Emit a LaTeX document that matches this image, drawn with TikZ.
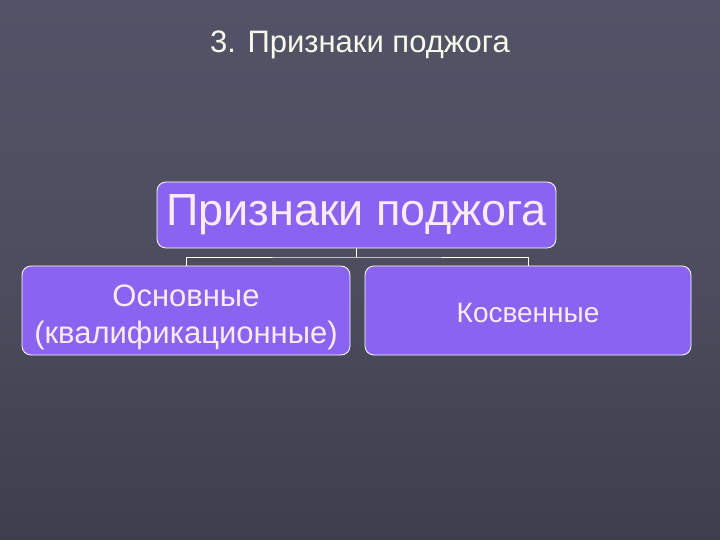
\documentclass[tikz,border=0pt]{standalone}
\usepackage{fontspec}
\setmainfont{Liberation Sans}
\definecolor{slidetop}{RGB}{82,83,102}
\definecolor{slidebot}{RGB}{62,63,76}
\definecolor{boxfill}{RGB}{138,100,240}
\definecolor{boxtext}{RGB}{250,236,246}
\definecolor{titletext}{RGB}{250,250,236}
\begin{document}
\begin{tikzpicture}[x=1pt,y=-1pt,
	every node/.style={inner sep=0},
	box/.style={draw=white,line width=0.8pt,fill=boxfill,rounded corners=9pt,
		text=boxtext,align=center},
	link/.style={draw=white,line width=0.8pt}]
\useasboundingbox (0,0) rectangle (720,540);
\shade[top color=slidetop,bottom color=slidebot,middle color=slidetop!70!slidebot] (0,0) rectangle (720,540);
\node[text=titletext,font=\fontsize{31}{34}\selectfont] (title) at (360,45) {3. Признаки поджога};
\node[box,minimum width=399pt,minimum height=66pt,font=\fontsize{45}{48}\selectfont] (root) at (356.5,215) {Признаки поджога};
\node[box,minimum width=328pt,minimum height=89pt,font=\fontsize{31}{37}\selectfont] (main) at (186,310.5) {\rule{0pt}{35pt}Основные\\(квалификационные)};
\node[box,minimum width=326pt,minimum height=89pt,font=\fontsize{28}{32}\selectfont] (indirect) at (528,310.5) {\rule{0pt}{25pt}Косвенные};
% bracket
\coordinate (hub) at (356.5,257);
\draw[link] (root.south) -- (hub);
\draw[link] (main.north) |- (hub) -| (indirect.north);
\end{tikzpicture}
\end{document}
